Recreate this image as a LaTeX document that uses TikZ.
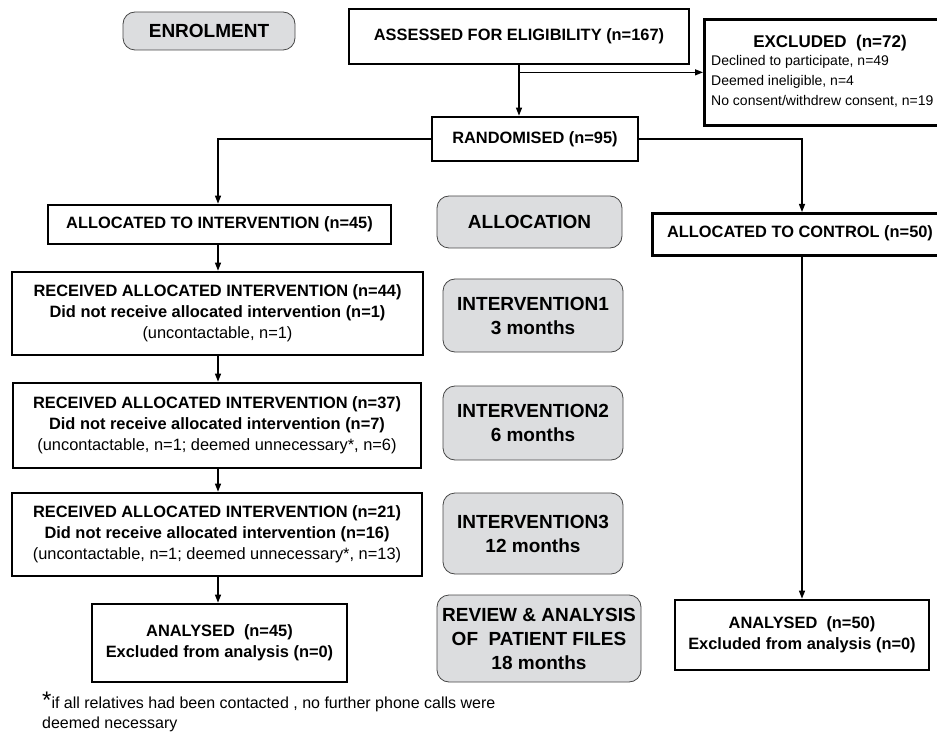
\documentclass[tikz,border=0pt]{standalone}
\usepackage{fontspec}
\setmainfont{Liberation Sans}
\usetikzlibrary{arrows.meta}
\definecolor{stagegray}{RGB}{220,221,223}
\definecolor{stageline}{RGB}{70,70,70}
\begin{document}
\begin{tikzpicture}[x=1pt,y=-1pt,
  box/.style={draw=black, line width=2.7pt, rectangle, inner sep=0pt, align=center,
    font=\fontsize{16.4}{21}\selectfont},
  stage/.style={draw=stageline, line width=0.8pt, fill=stagegray, rounded corners=12pt,
    inner sep=0pt, align=center, font=\fontsize{19}{24}\selectfont\bfseries},
  conn/.style={line width=1.3pt, -{Triangle[length=8pt,width=6pt]}},
  ]
\useasboundingbox (0,0) rectangle (937,743);

% stage labels
\node[stage, minimum width=172pt, minimum height=38pt] (enrol) at (209,31) {ENROLMENT};
\node[stage, minimum width=185pt, minimum height=52pt] (allocation) at (529.5,222) {ALLOCATION};
\node[stage, minimum width=180pt, minimum height=73pt] (int1) at (533,315.5) {INTERVENTION1\\3 months};
\node[stage, minimum width=180pt, minimum height=74pt] (int2) at (533,423) {INTERVENTION2\\6 months};
\node[stage, minimum width=180pt, minimum height=81pt] (int3) at (533,533.5) {INTERVENTION3\\12 months};
\node[stage, minimum width=204pt, minimum height=87pt] (review) at (539,638.5) {REVIEW \& ANALYSIS\\OF\ \ PATIENT FILES\\18 months};

% flow boxes
\node[box, minimum width=340pt, minimum height=55pt] (assessed) at (519,36.5)
  {\bfseries ASSESSED FOR ELIGIBILITY (n=167)};
\node[box, minimum width=237pt, minimum height=106pt, anchor=north west] (excluded) at (703,18) {};
\node[font=\fontsize{17}{20}\selectfont\bfseries, inner sep=0pt] (exT) at (830,43) {EXCLUDED\ \ (n=72)};
\node[anchor=north west, align=left, inner sep=0pt, font=\fontsize{14}{20}\selectfont] (exL) at (711,55)
  {Declined to participate, n=49\\Deemed ineligible, n=4\\No consent/withdrew consent, n=19};
\node[box, minimum width=206pt, minimum height=44pt] (randomised) at (535,139)
  {\bfseries RANDOMISED (n=95)};
\node[box, minimum width=343pt, minimum height=39pt] (allocint) at (219.5,224.5)
  {\bfseries ALLOCATED TO INTERVENTION (n=45)};
\node[box, minimum width=289pt, minimum height=42pt, anchor=north west] (alloccontrol) at (651,212) {};
\node[font=\fontsize{16.4}{21}\selectfont\bfseries, inner sep=0pt] (acT) at (800,233) {ALLOCATED TO CONTROL (n=50)};
\node[box, minimum width=411pt, minimum height=83pt] (rec1) at (217.5,313.5)
  {\textbf{RECEIVED ALLOCATED INTERVENTION (n=44)}\\
   \textbf{Did not receive allocated intervention (n=1)}\\
   (uncontactable, n=1)};
\node[box, minimum width=408pt, minimum height=85pt] (rec2) at (217,425.5)
  {\textbf{RECEIVED ALLOCATED INTERVENTION (n=37)}\\
   \textbf{Did not receive allocated intervention (n=7)}\\
   (uncontactable, n=1; deemed unnecessary*, n=6)};
\node[box, minimum width=410pt, minimum height=83pt] (rec3) at (217,534.5)
  {\textbf{RECEIVED ALLOCATED INTERVENTION (n=21)}\\
   \textbf{Did not receive allocated intervention (n=16)}\\
   (uncontactable, n=1; deemed unnecessary*, n=13)};
\node[box, minimum width=255pt, minimum height=78pt] (an45) at (219.5,643)
  {\textbf{ANALYSED\ \ (n=45)}\\\textbf{Excluded from analysis (n=0)}};
\node[box, minimum width=254pt, minimum height=70pt] (an50) at (802,635)
  {\textbf{ANALYSED\ \ (n=50)}\\\textbf{Excluded from analysis (n=0)}};

% footnote
\node[anchor=north west, align=left, inner sep=0pt, font=\fontsize{16}{20}\selectfont] (foot) at (42,692)
  {{\fontsize{24}{20}\selectfont *}if all relatives had been contacted , no further phone calls were\\deemed necessary};

% connector helper coordinates
\coordinate (lx) at (218,0);
\coordinate (cx) at (802,0);

% connectors
\draw[conn] (assessed.south) -- (assessed.south |- randomised.north);
\draw[conn] (excluded.west -| assessed.south) -- (excluded.west);
\draw[conn] (randomised.west) -| (lx |- allocint.north);
\draw[conn] (randomised.east) -| (cx |- alloccontrol.north);
\draw[conn] (lx |- allocint.south) -- (lx |- rec1.north);
\draw[conn] (lx |- rec1.south) -- (lx |- rec2.north);
\draw[conn] (lx |- rec2.south) -- (lx |- rec3.north);
\draw[conn] (lx |- rec3.south) -- (lx |- an45.north);
\draw[conn] (cx |- alloccontrol.south) -- (cx |- an50.north);
\end{tikzpicture}
\end{document}
